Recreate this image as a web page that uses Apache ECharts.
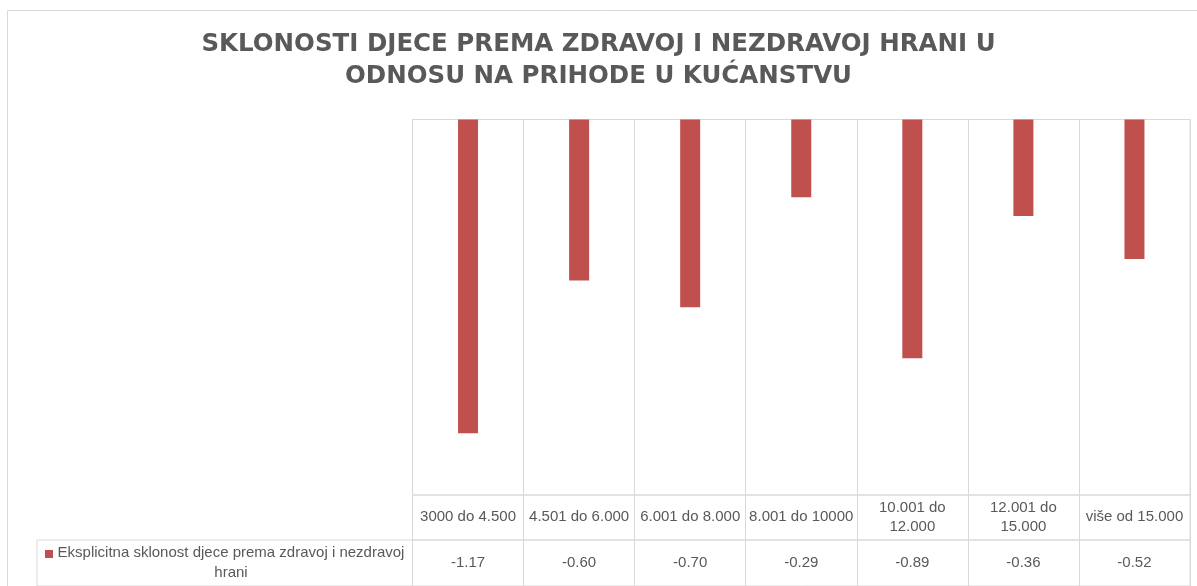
<!DOCTYPE html>
<html>
<head>
<meta charset="utf-8">
<script src="https://cdn.jsdelivr.net/npm/echarts@6/dist/echarts.min.js"></script>
<style>
  html, body { margin: 0; padding: 0; background: #fff; }
  #chart { width: 1197px; height: 586px; }
</style>
</head>
<body>
<div id="chart"></div>
<script>
const titleLines = ["SKLONOSTI DJECE PREMA ZDRAVOJ I NEZDRAVOJ HRANI U", "ODNOSU NA PRIHODE U KUĆANSTVU"];
const categories = ["3000 do 4.500", "4.501 do 6.000", "6.001 do 8.000", "8.001 do 10000", "10.001 do 12.000", "12.001 do 15.000", "više od 15.000"];
const values = [-1.17, -0.60, -0.70, -0.29, -0.89, -0.36, -0.52];
const seriesName = "Eksplicitna sklonost djece prema zdravoj i nezdravoj hrani";

const lineColor = "#d9d9d9";
const textColor = "#595959";
const tableFont = "Liberation Sans";

// long category names wrap on their last space, like the data table does
function wrapName(name) {
  if (name.length <= 14) return name;
  const i = name.lastIndexOf(" ");
  return name.slice(0, i) + "\n" + name.slice(i + 1);
}
function wrapLegend(name) {
  const i = name.lastIndexOf(" ");
  return name.slice(0, i) + "\n" + name.slice(i + 1);
}

const tableAxis = (gridIndex, data, margin) => ({
  type: "category",
  gridIndex,
  data,
  position: "top",
  axisLine: { show: false },
  axisTick: { show: false, interval: 0 },
  splitLine: { show: true, interval: 0, lineStyle: { color: lineColor, width: 1 } },
  axisLabel: {
    inside: true,
    interval: 0,
    margin,
    verticalAlign: "middle",
    lineHeight: 19,
    color: textColor,
    fontFamily: tableFont,
    fontSize: 15,
    formatter: wrapName
  }
});

const myChart = echarts.init(document.getElementById("chart"));
myChart.setOption({
  animation: false,
  title: {
    text: titleLines.join("\n"),
    left: "center",
    top: 29,
    padding: 0,
    textStyle: {
      fontFamily: "DejaVu Sans",
      fontWeight: "bold",
      fontSize: 24.5,
      lineHeight: 32,
      color: textColor
    }
  },
  grid: [
    // bars
    { left: 412.5, right: 7, top: 119.5, bottom: 91, show: true, borderColor: lineColor, borderWidth: 1 },
    // table header row
    { left: 412.5, right: 7, top: 495, height: 45, show: true, borderColor: lineColor, borderWidth: 1 },
    // table value row
    { left: 412.5, right: 7, top: 540, bottom: -20, show: true, borderColor: lineColor, borderWidth: 1 },
    // legend cell
    { left: 37, right: 784.5, top: 540, bottom: -20, show: true, borderColor: lineColor, borderWidth: 1 }
  ],
  xAxis: [
    {
      type: "category",
      gridIndex: 0,
      data: categories,
      position: "top",
      axisLine: { show: false },
      axisTick: { show: false, interval: 0 },
      axisLabel: { show: false, interval: 0 },
      splitLine: { show: true, interval: 0, lineStyle: { color: lineColor, width: 1 } }
    },
    tableAxis(1, categories, 22),
    tableAxis(2, values.map(v => v.toFixed(2)), 23),
    { type: "category", gridIndex: 3, data: [""], show: false }
  ],
  yAxis: [
    { type: "value", gridIndex: 0, min: -1.4, max: 0, show: false },
    { type: "value", gridIndex: 1, show: false },
    { type: "value", gridIndex: 2, show: false },
    { type: "value", gridIndex: 3, show: false }
  ],
  series: [
    {
      name: seriesName,
      type: "bar",
      xAxisIndex: 0,
      yAxisIndex: 0,
      barWidth: 20,
      data: values,
      itemStyle: { color: "#C0504D" }
    }
  ],
  graphic: [
    {
      // outer chart frame
      type: "rect",
      z: -10,
      silent: true,
      shape: { x: 7.5, y: 10.5, width: 1300, height: 700 },
      style: { fill: "none", stroke: lineColor, lineWidth: 1 }
    },
    {
      type: "rect",
      shape: { x: 45, y: 550, width: 8, height: 8 },
      style: { fill: "#C0504D" }
    },
    {
      type: "text",
      x: 231,
      y: 543,
      style: {
        text: wrapLegend(seriesName),
        fill: textColor,
        font: "15px " + tableFont,
        align: "center",
        textAlign: "center",
        verticalAlign: "top",
        textVerticalAlign: "top",
        lineHeight: 20
      }
    }
  ]
});
</script>
</body>
</html>
